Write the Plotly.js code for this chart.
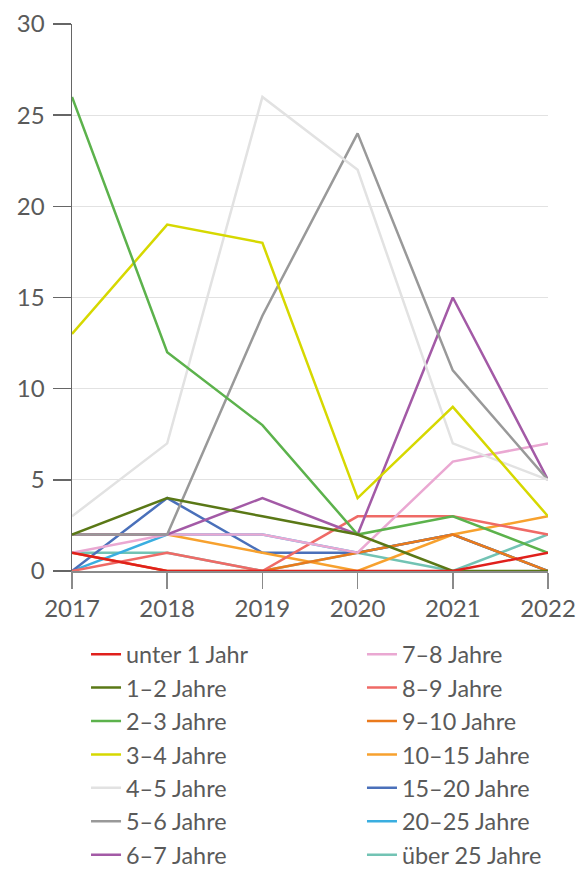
<!DOCTYPE html>
<html>
<head>
<meta charset="utf-8">
<script src="https://cdn.plot.ly/plotly-3.0.1.min.js"></script>
<style>
html,body{margin:0;padding:0;background:#fff;}
#chart{width:588px;height:869px;}
</style>
</head>
<body>
<div id="chart"></div>
<script>
const years = [2017, 2018, 2019, 2020, 2021, 2022];

const names = [
  "unter 1 Jahr", "1–2 Jahre", "2–3 Jahre", "3–4 Jahre", "4–5 Jahre", "5–6 Jahre", "6–7 Jahre",
  "7–8 Jahre", "8–9 Jahre", "9–10 Jahre", "10–15 Jahre", "15–20 Jahre", "20–25 Jahre", "über 25 Jahre"
];

const unter1   = [1, 0, 0, 0, 0, 1];
const j1_2     = [2, 4, 3, 2, 0, 0];
const j2_3     = [26, 12, 8, 2, 3, 1];
const j3_4     = [13, 19, 18, 4, 9, 3];
const j4_5     = [3, 7, 26, 22, 7, 5];
const j5_6     = [2, 2, 14, 24, 11, 5];
const j6_7     = [2, 2, 4, 2, 15, 5];
const j7_8     = [1, 2, 2, 1, 6, 7];
const j8_9     = [0, 1, 0, 3, 3, 2];
const j9_10    = [1, 0, 0, 1, 2, 0];
const j10_15   = [2, 2, 1, 0, 2, 3];
const j15_20   = [0, 4, 1, 1, 2, 0];
const j20_25   = [0, 2, 2, 1, 2, 0];
const ueber25  = [1, 1, 0, 1, 0, 2];

const series = [unter1, j1_2, j2_3, j3_4, j4_5, j5_6, j6_7, j7_8, j8_9, j9_10, j10_15, j15_20, j20_25, ueber25];

const colors = [
  "#e0201c", "#5a7816", "#5cb24c", "#d6d800", "#e2e2e2", "#999999", "#a35aa6",
  "#eaa8d2", "#ef6a66", "#ea7a1c", "#f7a12e", "#4a70ba", "#3aaee0", "#72c3b4"
];

const traces = [];
for (let i = series.length - 1; i >= 0; i--) {
  traces.push({
    type: "scatter",
    mode: "lines",
    x: years,
    y: series[i],
    name: names[i],
    line: {color: colors[i], width: 2.5},
    legend: i < 7 ? "legend" : "legend2",
    legendrank: i + 1,
    hoverinfo: "x+y+name"
  });
}

const FONT = "Lato, sans-serif";
const TXT = "#5a5a5a";

const legendCommon = {
  orientation: "v",
  xref: "container",
  yref: "container",
  xanchor: "left",
  yanchor: "top",
  font: {family: FONT, size: 23.4, color: TXT},
  bgcolor: "rgba(0,0,0,0)",
  traceorder: "normal"
};

const layout = {
  width: 588,
  height: 869,
  margin: {l: 72, r: 40, t: 24, b: 298, autoexpand: false},
  paper_bgcolor: "#ffffff",
  plot_bgcolor: "#ffffff",
  font: {family: FONT, size: 24, color: TXT},
  showlegend: true,
  xaxis: {
    range: [2017, 2022],
    tickvals: years,
    ticktext: years.map(String),
    showgrid: false,
    zeroline: false,
    showline: true,
    linecolor: "#8a8a8a",
    linewidth: 1.5,
    ticks: "outside",
    ticklen: 16,
    tickcolor: "#8a8a8a",
    tickwidth: 1.5,
    ticklabelstandoff: 0,
    automargin: false,
    tickfont: {family: FONT, size: 24, color: TXT}
  },
  yaxis: {
    range: [0, 30],
    tickvals: [0, 5, 10, 15, 20, 25, 30],
    showgrid: true,
    gridcolor: "#e2e2e2",
    gridwidth: 1,
    zeroline: false,
    showline: true,
    linecolor: "#666666",
    linewidth: 1.5,
    ticks: "outside",
    ticklen: 18,
    tickcolor: "#666666",
    tickwidth: 1.5,
    ticklabelstandoff: 3,
    automargin: false,
    tickfont: {family: FONT, size: 24, color: TXT}
  },
  legend: Object.assign({}, legendCommon, {x: 0.1463, y: 0.2722}),
  legend2: Object.assign({}, legendCommon, {x: 0.6156, y: 0.2722})
};

Plotly.newPlot("chart", traces, layout, {displayModeBar: false, staticPlot: true});
</script>
</body>
</html>
